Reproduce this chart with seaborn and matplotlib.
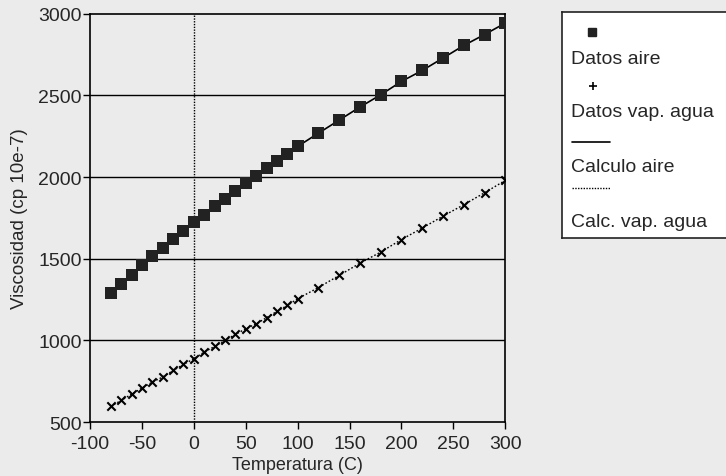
import numpy as np
import pandas as pd
import matplotlib
matplotlib.use("Agg")
import matplotlib.pyplot as plt
from matplotlib.lines import Line2D
import seaborn as sns

# temperatures (C)
temp = [-80, -70, -60, -50, -40, -30, -20, -10, 0, 10, 20, 30, 40, 50, 60, 70, 80, 90, 100,
        120, 140, 160, 180, 200, 220, 240, 260, 280, 300]

# viscosity (cp 10e-7)
aire = [1292, 1347, 1402, 1459, 1514, 1565, 1622, 1673, 1724, 1769, 1822, 1865, 1912, 1963,
        2006, 2055, 2096, 2139, 2188, 2269, 2349, 2429, 2504, 2586, 2653, 2729, 2806, 2873, 2943]
vapor = [596, 633, 671, 708, 745, 776, 816, 853, 888, 929, 963, 1000, 1037, 1071, 1102, 1139,
         1178, 1214, 1255, 1324, 1398, 1473, 1541, 1618, 1688, 1761, 1831, 1904, 1980]

df = pd.DataFrame({"temp": temp, "aire": aire, "vapor": vapor})

sns.set_style("ticks")
plt.rcParams['font.family'] = ['Liberation Sans', 'DejaVu Sans']
plt.rcParams['axes.unicode_minus'] = False

bg = '#ebebeb'
fig = plt.figure(figsize=(7.26, 4.77), dpi=100, facecolor=bg)
ax = fig.add_axes([0.124, 0.113, 0.572, 0.856])
ax.set_facecolor(bg)

# grid
for v in [1000, 1500, 2000, 2500]:
    ax.axhline(v, color='black', lw=1.0, zorder=1)
ax.axvline(0, color='black', lw=1.0, ls=(0, (1, 1)), zorder=1)

# calculated lines
sns.lineplot(data=df, x="temp", y="aire", ax=ax, color='black', lw=1.2, zorder=2)
sns.lineplot(data=df, x="temp", y="vapor", ax=ax, color='black', lw=1.0,
             ls=(0, (1.2, 1.5)), zorder=2)
# data points
sns.scatterplot(data=df, x="temp", y="aire", ax=ax, marker='s', s=72, color='#222222',
                edgecolor='#222222', linewidth=0, zorder=3)
sns.scatterplot(data=df, x="temp", y="vapor", ax=ax, marker='x', s=36, color='black',
                linewidth=1.5, zorder=3)

ax.set_xlim(-100, 300)
ax.set_ylim(500, 3000)
ax.set_xticks(range(-100, 301, 50))
ax.set_yticks(range(500, 3001, 500))
ax.tick_params(labelsize=14, length=5, width=1, pad=1, color='black')
ax.tick_params(axis='x', pad=4)
for s in ax.spines.values():
    s.set_linewidth(1.2)
    s.set_color('black')
ax.set_xlabel("Temperatura (C)", fontsize=13, labelpad=3)
ax.set_ylabel("Viscosidad (cp 10e-7)", fontsize=13.5, labelpad=7)

# legend box
lg = fig.add_axes([562 / 726, 1 - 239 / 477, 0.3, (239 - 13) / 477])
lg.set_facecolor('white')
lg.set_xlim(0, 1)
lg.set_ylim(1, 0)
lg.set_xticks([])
lg.set_yticks([])
for s in lg.spines.values():
    s.set_linewidth(1.2)
    s.set_color('#222222')
u = 1 / 226.0  # pixel to axes unit (vertical)
w = 1 / 218.0
fs = 14
lg.add_line(Line2D([30 * w], [20 * u], marker='s', ms=6, color='#222222', ls='none'))
lg.text(9 * w, 47 * u, "Datos aire", fontsize=fs, va='center')
lg.add_line(Line2D([31 * w], [74 * u], marker='+', ms=6, mew=1.2, color='black', ls='none'))
lg.text(9 * w, 100 * u, "Datos vap. agua", fontsize=fs, va='center')
lg.add_line(Line2D([10 * w, 48 * w], [130 * u, 130 * u], color='black', lw=1.2))
lg.text(9 * w, 155 * u, "Calculo aire", fontsize=fs, va='center')
lg.add_line(Line2D([10 * w, 48 * w], [176 * u, 176 * u], color='black', lw=1.0, ls=(0, (1, 1))))
lg.text(9 * w, 210 * u, "Calc. vap. agua", fontsize=fs, va='center')

fig.savefig("out.png", dpi=100, facecolor=bg)
